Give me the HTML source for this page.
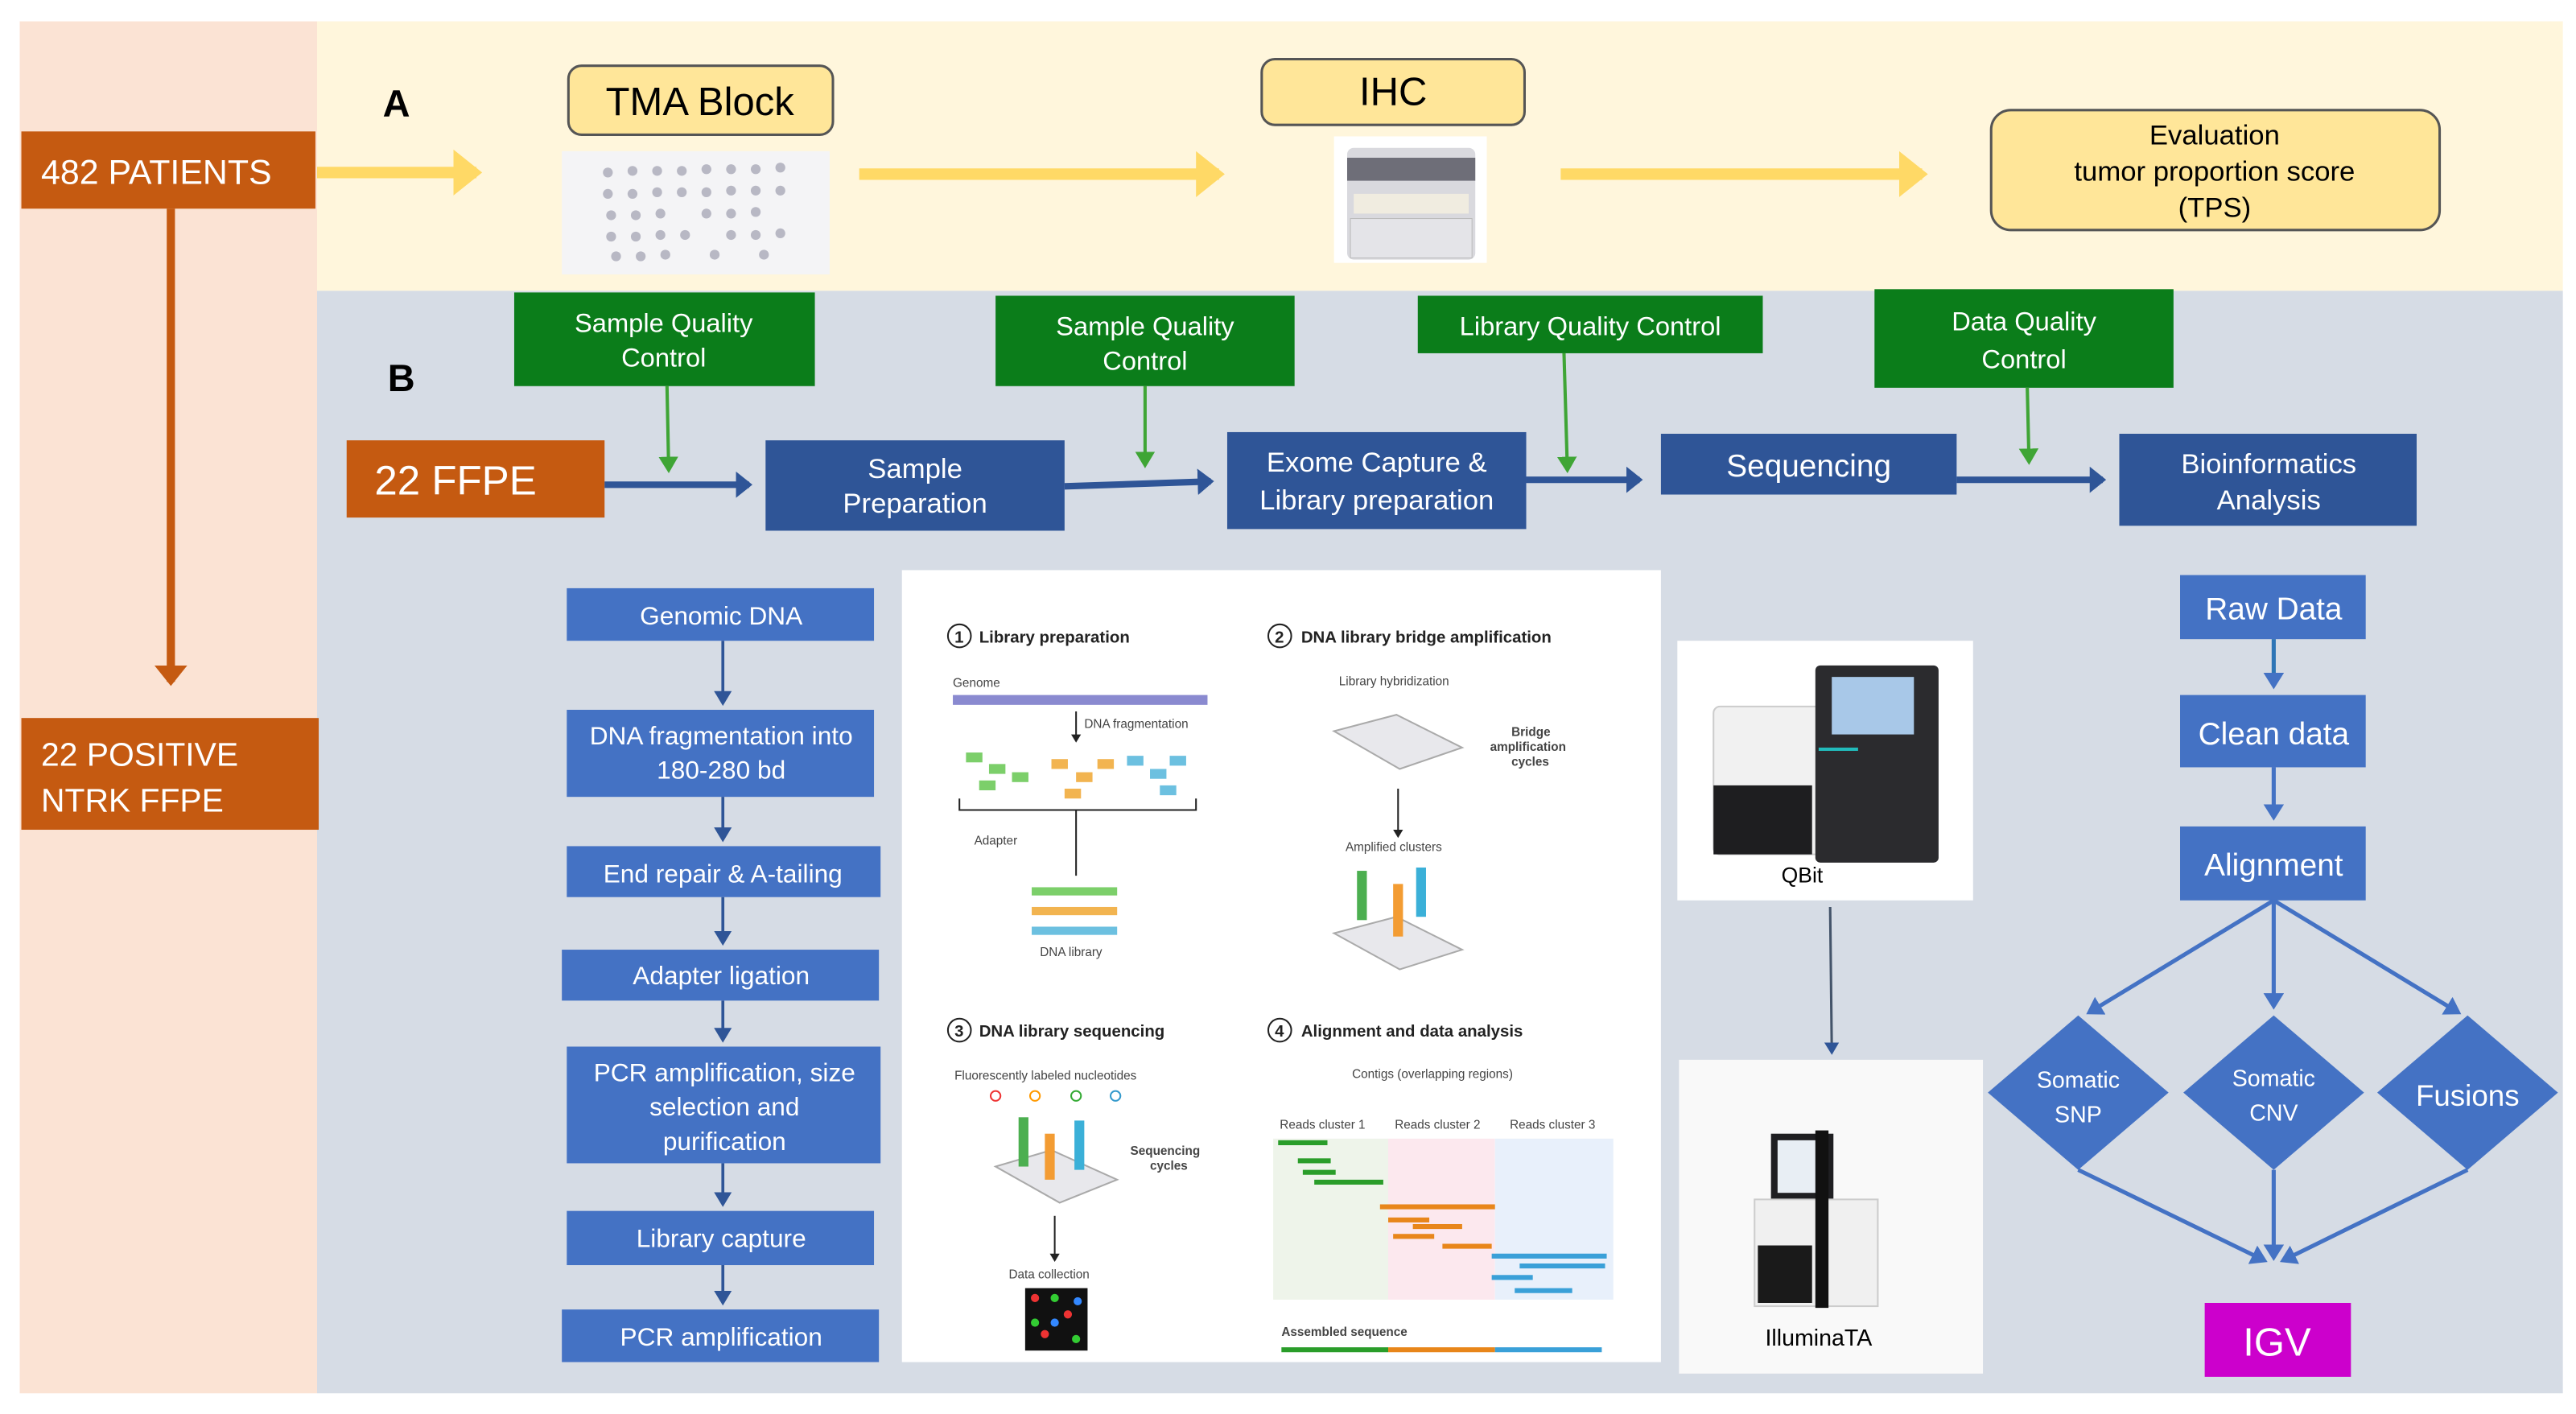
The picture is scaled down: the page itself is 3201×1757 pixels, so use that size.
<!DOCTYPE html>
<html><head><meta charset="utf-8"><style>
html,body{margin:0;padding:0;background:#fff}
svg{display:block}
text{font-family:"Liberation Sans Narrow","Liberation Sans",sans-serif}
</style></head><body>
<svg width="3201" height="1757" viewBox="0 0 1568 860.6" preserveAspectRatio="none" xmlns="http://www.w3.org/2000/svg">
<defs>
<marker id="ay" markerWidth="4" markerHeight="4" refX="2" refY="2" orient="auto" markerUnits="strokeWidth"><path d="M0,0 L2.5,2 L0,4z" fill="#ffd966"/></marker>
<marker id="ao" markerWidth="4" markerHeight="4" refX="2" refY="2" orient="auto" markerUnits="strokeWidth"><path d="M0,0 L2.5,2 L0,4z" fill="#c55a11"/></marker>
<marker id="ab" markerWidth="4" markerHeight="4" refX="2" refY="2" orient="auto" markerUnits="strokeWidth"><path d="M0,0 L2.5,2 L0,4z" fill="#2f5597"/></marker>
<marker id="ag" markerWidth="6" markerHeight="6" refX="3" refY="3" orient="auto" markerUnits="strokeWidth"><path d="M0,0 L5,3 L0,6z" fill="#3fa535"/></marker>
<marker id="al" markerWidth="6" markerHeight="6" refX="3" refY="3" orient="auto" markerUnits="strokeWidth"><path d="M0,0 L5,3 L0,6z" fill="#2f5597"/></marker>
<marker id="ar" markerWidth="5" markerHeight="5" refX="3" refY="2.5" orient="auto" markerUnits="strokeWidth"><path d="M0,0 L4,2.5 L0,5z" fill="#4472c4"/></marker>
<marker id="ak" markerWidth="6" markerHeight="6" refX="3" refY="3" orient="auto" markerUnits="strokeWidth"><path d="M0,0 L5,3 L0,6z" fill="#222"/></marker>
</defs>
<rect x="12" y="13" width="181" height="835" fill="#fbe3d4"/>
<rect x="193" y="13" width="1367" height="164" fill="#fff6dc"/>
<rect x="193" y="177" width="1367" height="671" fill="#d6dce5"/>

<!-- left -->
<rect x="13" y="80" width="179" height="47" fill="#c55a11"/>
<text x="25" y="112" font-size="21" fill="#fff">482 PATIENTS</text>
<line x1="104" y1="127" x2="104" y2="415" stroke="#c55a11" stroke-width="5" marker-end="url(#ao)"/>
<rect x="13" y="437" width="181" height="68" fill="#c55a11"/>
<text x="25" y="466" font-size="20" fill="#fff">22 POSITIVE</text>
<text x="25" y="494" font-size="20" fill="#fff">NTRK FFPE</text>

<!-- A -->
<text x="233" y="71" font-size="23" font-weight="bold" fill="#000">A</text>
<line x1="193" y1="105" x2="290" y2="105" stroke="#ffd966" stroke-width="7" marker-end="url(#ay)"/>
<line x1="523" y1="106" x2="742" y2="106" stroke="#ffd966" stroke-width="7" marker-end="url(#ay)"/>
<line x1="950" y1="106" x2="1170" y2="106" stroke="#ffd966" stroke-width="7" marker-end="url(#ay)"/>
<rect x="346" y="40" width="161" height="42" rx="8" fill="#ffe699" stroke="#555" stroke-width="1.5"/>
<text x="426" y="70" font-size="24" text-anchor="middle">TMA Block</text>
<rect x="342" y="92" width="163" height="75" fill="#f4f4f6"/>
<g fill="#b8b8c4">
<circle cx="370" cy="105" r="3"/><circle cx="385" cy="104" r="3"/><circle cx="400" cy="104" r="3"/><circle cx="415" cy="104" r="3"/><circle cx="430" cy="103" r="3"/><circle cx="445" cy="103" r="3"/><circle cx="460" cy="103" r="3"/><circle cx="475" cy="102" r="3"/>
<circle cx="370" cy="118" r="3"/><circle cx="385" cy="118" r="3"/><circle cx="400" cy="117" r="3"/><circle cx="415" cy="117" r="3"/><circle cx="430" cy="117" r="3"/><circle cx="445" cy="116" r="3"/><circle cx="460" cy="116" r="3"/><circle cx="475" cy="116" r="3"/>
<circle cx="372" cy="131" r="3"/><circle cx="387" cy="131" r="3"/><circle cx="402" cy="130" r="3"/><circle cx="430" cy="130" r="3"/><circle cx="445" cy="130" r="3"/><circle cx="460" cy="129" r="3"/>
<circle cx="372" cy="144" r="3"/><circle cx="387" cy="144" r="3"/><circle cx="402" cy="143" r="3"/><circle cx="417" cy="143" r="3"/><circle cx="445" cy="143" r="3"/><circle cx="460" cy="143" r="3"/><circle cx="475" cy="142" r="3"/>
<circle cx="375" cy="156" r="3"/><circle cx="390" cy="156" r="3"/><circle cx="405" cy="155" r="3"/><circle cx="435" cy="155" r="3"/><circle cx="465" cy="155" r="3"/>
</g>
<rect x="768" y="36" width="160" height="40" rx="8" fill="#ffe699" stroke="#555" stroke-width="1.5"/>
<text x="848" y="64" font-size="24" text-anchor="middle">IHC</text>
<rect x="812" y="83" width="93" height="77" fill="#fff"/>
<rect x="820" y="90" width="78" height="68" rx="4" fill="#d9d9de"/>
<rect x="820" y="96" width="78" height="14" fill="#6e6e78"/>
<rect x="824" y="118" width="70" height="12" fill="#f0ece0"/>
<rect x="822" y="133" width="74" height="24" fill="#e4e4e8" stroke="#bbb" stroke-width="0.5"/>
<rect x="1212" y="67" width="273" height="73" rx="12" fill="#ffe699" stroke="#555" stroke-width="1.5"/>
<text x="1348" y="88" font-size="17" text-anchor="middle">Evaluation</text>
<text x="1348" y="110" font-size="17" text-anchor="middle">tumor proportion score</text>
<text x="1348" y="132" font-size="17" text-anchor="middle">(TPS)</text>

<!-- B -->
<text x="236" y="238" font-size="23" font-weight="bold">B</text>
<g fill="#0b7d1a">
<rect x="313" y="178" width="183" height="57"/>
<rect x="606" y="180" width="182" height="55"/>
<rect x="863" y="180" width="210" height="35"/>
<rect x="1141" y="176" width="182" height="60"/>
</g>
<g fill="#fff" font-size="16" text-anchor="middle">
<text x="404" y="202">Sample Quality</text><text x="404" y="223">Control</text>
<text x="697" y="204">Sample Quality</text><text x="697" y="225">Control</text>
<text x="968" y="204">Library Quality Control</text>
<text x="1232" y="201">Data  Quality</text><text x="1232" y="224">Control</text>
</g>
<g stroke="#3fa535" stroke-width="2">
<line x1="406" y1="235" x2="407" y2="284" marker-end="url(#ag)"/>
<line x1="697" y1="235" x2="697" y2="281" marker-end="url(#ag)"/>
<line x1="952" y1="215" x2="954" y2="284" marker-end="url(#ag)"/>
<line x1="1234" y1="236" x2="1235" y2="279" marker-end="url(#ag)"/>
</g>
<rect x="211" y="268" width="157" height="47" fill="#c55a11"/>
<text x="228" y="301" font-size="25" fill="#fff">22 FFPE</text>
<g fill="#2f5597">
<rect x="466" y="268" width="182" height="55"/>
<rect x="747" y="263" width="182" height="59"/>
<rect x="1011" y="264" width="180" height="37"/>
<rect x="1290" y="264" width="181" height="56"/>
</g>
<g fill="#fff" font-size="17" text-anchor="middle">
<text x="557" y="291">Sample</text><text x="557" y="312">Preparation</text>
<text x="838" y="287">Exome Capture &amp;</text><text x="838" y="310">Library preparation</text>
<text x="1101" y="290" font-size="19">Sequencing</text>
<text x="1381" y="288">Bioinformatics</text><text x="1381" y="310">Analysis</text>
</g>
<g stroke="#2f5597" stroke-width="4">
<line x1="368" y1="295" x2="456" y2="295" marker-end="url(#ab)"/>
<line x1="648" y1="296" x2="737" y2="293" marker-end="url(#ab)"/>
<line x1="929" y1="292" x2="998" y2="292" marker-end="url(#ab)"/>
<line x1="1191" y1="292" x2="1280" y2="292" marker-end="url(#ab)"/>
</g>

<!-- left column -->
<g fill="#4472c4">
<rect x="345" y="358" width="187" height="32"/>
<rect x="345" y="432" width="187" height="53"/>
<rect x="345" y="515" width="191" height="31"/>
<rect x="342" y="578" width="193" height="31"/>
<rect x="345" y="637" width="191" height="71"/>
<rect x="345" y="737" width="187" height="33"/>
<rect x="342" y="797" width="193" height="32"/>
</g>
<g fill="#fff" font-size="15.5" text-anchor="middle">
<text x="439" y="380">Genomic DNA</text>
<text x="439" y="453">DNA fragmentation into</text><text x="439" y="474">180-280 bd</text>
<text x="440" y="537">End repair &amp; A-tailing</text>
<text x="439" y="599">Adapter ligation</text>
<text x="441" y="658">PCR amplification, size</text><text x="441" y="679">selection and</text><text x="441" y="700">purification</text>
<text x="439" y="759">Library capture</text>
<text x="439" y="819">PCR amplification</text>
</g>
<g stroke="#2f5597" stroke-width="1.8">
<line x1="440" y1="390" x2="440" y2="426" marker-end="url(#al)"/>
<line x1="440" y1="485" x2="440" y2="509" marker-end="url(#al)"/>
<line x1="440" y1="546" x2="440" y2="572" marker-end="url(#al)"/>
<line x1="440" y1="609" x2="440" y2="631" marker-end="url(#al)"/>
<line x1="440" y1="708" x2="440" y2="731" marker-end="url(#al)"/>
<line x1="440" y1="770" x2="440" y2="791" marker-end="url(#al)"/>
</g>

<!-- illustration panel -->
<rect x="549" y="347" width="462" height="482" fill="#fff"/>
<g font-family="Liberation Sans" font-size="10" font-weight="bold" fill="#222">
<circle cx="584" cy="387" r="7" fill="none" stroke="#222"/><text x="581" y="391">1</text><text x="596" y="391">Library preparation</text>
<circle cx="779" cy="387" r="7" fill="none" stroke="#222"/><text x="776" y="391">2</text><text x="792" y="391">DNA library bridge amplification</text>
<circle cx="584" cy="627" r="7" fill="none" stroke="#222"/><text x="581" y="631">3</text><text x="596" y="631">DNA library sequencing</text>
<circle cx="779" cy="627" r="7" fill="none" stroke="#222"/><text x="776" y="631">4</text><text x="792" y="631">Alignment and data analysis</text>
</g>
<g font-family="Liberation Sans" font-size="7.5" fill="#444">
<text x="580" y="418">Genome</text><text x="660" y="443">DNA fragmentation</text><text x="593" y="514">Adapter</text><text x="633" y="582">DNA library</text>
<text x="815" y="417">Library hybridization</text><text x="819" y="518">Amplified clusters</text>
<text x="581" y="657">Fluorescently labeled nucleotides</text><text x="614" y="778">Data collection</text>
<text x="823" y="656">Contigs (overlapping regions)</text>
<text x="779" y="687">Reads cluster 1</text><text x="849" y="687">Reads cluster 2</text><text x="919" y="687">Reads cluster 3</text>
<text x="780" y="813" font-weight="bold">Assembled sequence</text>
<text x="688" y="703" font-weight="bold">Sequencing</text><text x="700" y="712" font-weight="bold">cycles</text>
<text x="920" y="448" font-weight="bold">Bridge</text><text x="907" y="457" font-weight="bold">amplification</text><text x="920" y="466" font-weight="bold">cycles</text>
</g>
<rect x="580" y="423" width="155" height="6" fill="#8a8ad0"/>
<g fill="#7ccf6a"><rect x="588" y="458" width="10" height="6"/><rect x="602" y="465" width="10" height="6"/><rect x="596" y="475" width="10" height="6"/><rect x="616" y="470" width="10" height="6"/></g>
<g fill="#f2b450"><rect x="640" y="462" width="10" height="6"/><rect x="655" y="470" width="10" height="6"/><rect x="648" y="480" width="10" height="6"/><rect x="668" y="462" width="10" height="6"/></g>
<g fill="#6cc0e0"><rect x="686" y="460" width="10" height="6"/><rect x="700" y="468" width="10" height="6"/><rect x="712" y="460" width="10" height="6"/><rect x="706" y="478" width="10" height="6"/></g>
<path d="M584,486 V493 H728 V486 M655,493 V533" stroke="#222" fill="none"/>
<line x1="655" y1="433" x2="655" y2="450" stroke="#222" marker-end="url(#ak)" stroke-width="1"/>
<rect x="628" y="540" width="52" height="5" fill="#7ccf6a"/><rect x="628" y="552" width="52" height="5" fill="#f2b450"/><rect x="628" y="564" width="52" height="5" fill="#6cc0e0"/>
<path d="M812,445 L850,435 L890,455 L852,468z" fill="#e8e8ec" stroke="#aaa"/>
<path d="M812,568 L850,558 L890,578 L852,590z" fill="#e8e8ec" stroke="#aaa"/>
<rect x="826" y="530" width="6" height="30" fill="#4caf50"/><rect x="848" y="538" width="6" height="32" fill="#f39c33"/><rect x="862" y="528" width="6" height="30" fill="#3bb0d8"/>
<line x1="851" y1="480" x2="851" y2="508" stroke="#222" marker-end="url(#ak)"/>
<path d="M606,710 L640,700 L680,718 L645,732z" fill="#e8e8ec" stroke="#aaa"/>
<rect x="620" y="680" width="6" height="30" fill="#4caf50"/><rect x="636" y="690" width="6" height="28" fill="#f39c33"/><rect x="654" y="682" width="6" height="30" fill="#3bb0d8"/>
<circle cx="606" cy="667" r="3" fill="none" stroke="#e33"/><circle cx="630" cy="667" r="3" fill="none" stroke="#f90"/><circle cx="655" cy="667" r="3" fill="none" stroke="#3a3"/><circle cx="679" cy="667" r="3" fill="none" stroke="#39c"/>
<line x1="642" y1="740" x2="642" y2="766" stroke="#222" marker-end="url(#ak)"/>
<rect x="624" y="784" width="38" height="38" fill="#111"/>
<g fill="#e33"><circle cx="630" cy="790" r="2.5"/><circle cx="650" cy="800" r="2.5"/><circle cx="636" cy="812" r="2.5"/></g>
<g fill="#3c3"><circle cx="642" cy="790" r="2.5"/><circle cx="630" cy="805" r="2.5"/><circle cx="655" cy="815" r="2.5"/></g>
<g fill="#38f"><circle cx="656" cy="792" r="2.5"/><circle cx="642" cy="805" r="2.5"/></g>
<rect x="775" y="693" width="70" height="98" fill="#eef4ea"/><rect x="845" y="693" width="65" height="98" fill="#fce8ee"/><rect x="910" y="693" width="72" height="98" fill="#e8f0fb"/>
<g fill="#2a9d2a"><rect x="778" y="694" width="30" height="3"/><rect x="790" y="705" width="20" height="3"/><rect x="793" y="712" width="20" height="3"/><rect x="800" y="718" width="42" height="3"/></g>
<g fill="#e8861a"><rect x="840" y="733" width="70" height="3"/><rect x="845" y="741" width="25" height="3"/><rect x="860" y="745" width="30" height="3"/><rect x="848" y="751" width="25" height="3"/><rect x="878" y="757" width="30" height="3"/></g>
<g fill="#3aa0d8"><rect x="908" y="763" width="70" height="3"/><rect x="925" y="769" width="52" height="3"/><rect x="908" y="776" width="25" height="3"/><rect x="922" y="784" width="35" height="3"/></g>
<rect x="780" y="820" width="65" height="3" fill="#2a9d2a"/><rect x="845" y="820" width="65" height="3" fill="#e8861a"/><rect x="910" y="820" width="65" height="3" fill="#3aa0d8"/>

<!-- instruments -->
<rect x="1021" y="390" width="180" height="158" fill="#fff"/>
<rect x="1043" y="430" width="80" height="90" rx="4" fill="#f1f1f1" stroke="#ccc"/>
<rect x="1105" y="405" width="75" height="120" rx="3" fill="#2b2b2e"/>
<rect x="1115" y="412" width="50" height="35" fill="#a8c8e8"/>
<rect x="1043" y="478" width="60" height="42" fill="#1e1e20"/>
<rect x="1107" y="455" width="24" height="2" fill="#2bb"/>
<text x="1097" y="537" font-family="Liberation Sans" font-size="13" text-anchor="middle">QBit</text>
<line x1="1114" y1="552" x2="1115" y2="639" stroke="#44546a" stroke-width="1.5" marker-end="url(#al)"/>
<rect x="1022" y="645" width="185" height="191" fill="#f9f9f9"/>
<rect x="1078" y="690" width="38" height="40" fill="#1f1f22"/>
<rect x="1082" y="694" width="28" height="32" fill="#e8eef4"/>
<rect x="1068" y="730" width="75" height="65" fill="#f0f0f0" stroke="#ccc"/>
<rect x="1105" y="688" width="8" height="108" fill="#111"/>
<rect x="1070" y="758" width="33" height="35" fill="#1a1a1a"/>
<text x="1107" y="819" font-family="Liberation Sans" font-size="14" text-anchor="middle">IlluminaTA</text>

<!-- right flow -->
<g fill="#4472c4">
<rect x="1327" y="350" width="113" height="39"/>
<rect x="1327" y="423" width="113" height="44"/>
<rect x="1327" y="503" width="113" height="45"/>
<path d="M1265,618 L1320,665 L1265,712 L1210,665z"/>
<path d="M1384,618 L1439,665 L1384,712 L1329,665z"/>
<path d="M1502,618 L1557,665 L1502,712 L1447,665z"/>
</g>
<g fill="#fff" text-anchor="middle">
<text x="1384" y="377" font-size="19">Raw Data</text>
<text x="1384" y="453" font-size="19">Clean data</text>
<text x="1384" y="533" font-size="19">Alignment</text>
<text x="1265" y="662" font-size="14">Somatic</text><text x="1265" y="683" font-size="14">SNP</text>
<text x="1384" y="661" font-size="14">Somatic</text><text x="1384" y="682" font-size="14">CNV</text>
<text x="1502" y="673" font-size="18">Fusions</text>
</g>
<g stroke="#4472c4" stroke-width="2.5" fill="none">
<line x1="1384" y1="389" x2="1384" y2="417" stroke="#2e75b6" marker-end="url(#ar)"/>
<line x1="1384" y1="467" x2="1384" y2="497" marker-end="url(#ar)"/>
<line x1="1384" y1="548" x2="1272" y2="616" marker-end="url(#ar)"/>
<line x1="1384" y1="548" x2="1384" y2="612" marker-end="url(#ar)"/>
<line x1="1384" y1="548" x2="1496" y2="616" marker-end="url(#ar)"/>
<line x1="1265" y1="712" x2="1378" y2="767" marker-end="url(#ar)"/>
<line x1="1384" y1="712" x2="1384" y2="765" marker-end="url(#ar)"/>
<line x1="1502" y1="712" x2="1390" y2="767" marker-end="url(#ar)"/>
</g>
<rect x="1342" y="793" width="89" height="45" fill="#cc00cc"/>
<text x="1386" y="825" font-size="24" fill="#fff" text-anchor="middle">IGV</text>
</svg>
</body></html>
